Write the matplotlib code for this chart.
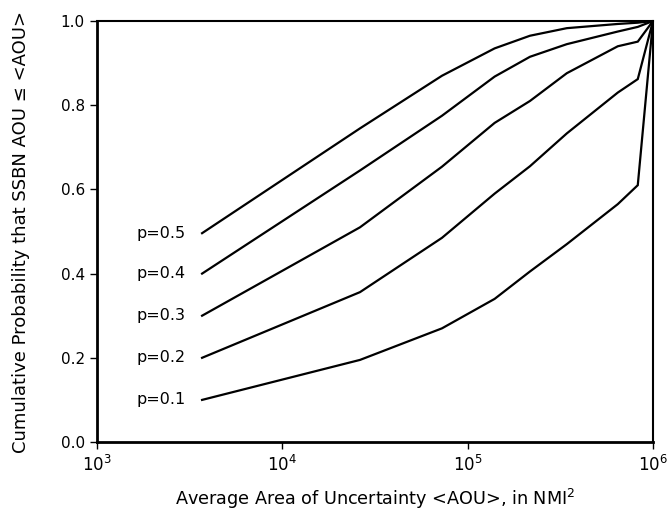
import matplotlib.pyplot as plt
from matplotlib.ticker import LogLocator, NullLocator, FixedLocator

plt.rcParams.update({
    'font.family': 'DejaVu Sans',
    'font.size': 10,
})

# average area of uncertainty <AOU>, NMI^2
aou = [3.7e3, 2.63e4, 7.28e4, 1.4e5, 2.17e5, 3.43e5, 6.46e5, 8.28e5, 1.0e6]

# cumulative probability curves, one per p
p_labels = ['p=0.1', 'p=0.2', 'p=0.3', 'p=0.4', 'p=0.5']
cum_p01 = [0.100, 0.195, 0.270, 0.340, 0.405, 0.470, 0.565, 0.610, 1.0]
cum_p02 = [0.200, 0.356, 0.485, 0.590, 0.655, 0.733, 0.830, 0.862, 1.0]
cum_p03 = [0.300, 0.510, 0.654, 0.758, 0.810, 0.876, 0.940, 0.951, 1.0]
cum_p04 = [0.400, 0.645, 0.775, 0.868, 0.915, 0.945, 0.975, 0.986, 1.0]
cum_p05 = [0.496, 0.745, 0.870, 0.935, 0.965, 0.983, 0.993, 0.996, 1.0]
curves = [cum_p01, cum_p02, cum_p03, cum_p04, cum_p05]

fig = plt.figure(figsize=(6.68, 5.2), dpi=100)
ax = fig.add_axes([0.1448, 0.15, 0.8327, 0.8096])

for label, vals in zip(p_labels, curves):
    ax.plot(aou, vals, color='black', linewidth=1.6, solid_joinstyle='miter')
    ax.annotate(label, xy=(aou[0], vals[0]), xytext=(-12, 0),
                textcoords='offset points', ha='right', va='center', fontsize=11.5)

ax.set_xscale('log')
ax.set_xlim(1e3, 1e6)
ax.set_ylim(0.0, 1.0)
ax.xaxis.set_major_locator(LogLocator(base=10, numticks=10))
ax.xaxis.set_minor_locator(NullLocator())
ax.yaxis.set_major_locator(FixedLocator([0.0, 0.2, 0.4, 0.6, 0.8, 1.0]))
ax.set_yticklabels(['0.0', '0.2', '0.4', '0.6', '0.8', '1.0'])

ax.tick_params(axis='both', direction='out', length=5, width=1, labelsize=11, colors='black')
ax.tick_params(axis='x', pad=4, labelsize=12)
ax.spines['left'].set_linewidth(2.0)
ax.spines['bottom'].set_linewidth(2.0)
ax.spines['top'].set_linewidth(1.5)
ax.spines['right'].set_linewidth(1.5)

ax.set_xlabel('Average Area of Uncertainty <AOU>, in NMI$^2$', fontsize=12.7, labelpad=9)
ax.set_ylabel('Cumulative Probability that SSBN AOU \u2264 <AOU>', fontsize=13, labelpad=22)

plt.savefig('out.png', dpi=100)
